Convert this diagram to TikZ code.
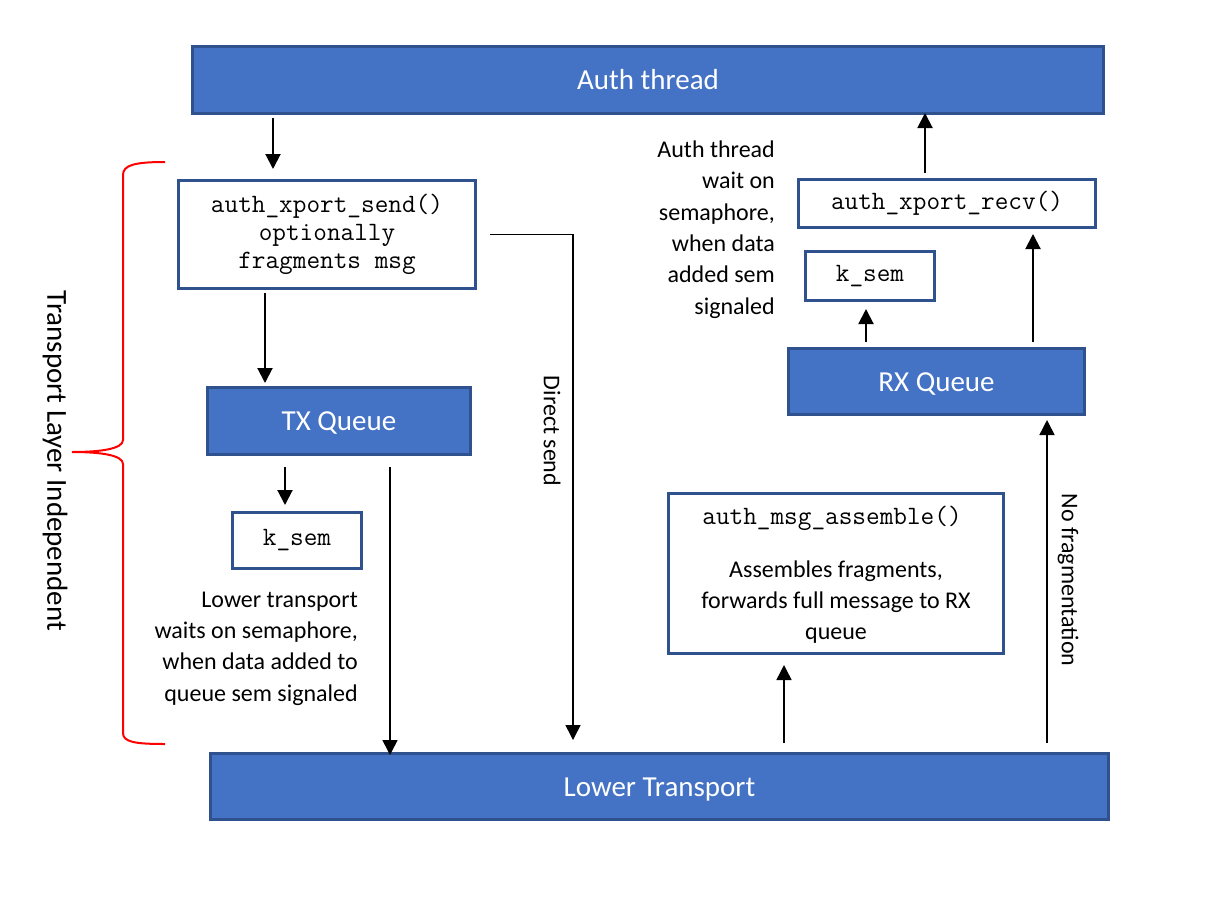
\documentclass[tikz,border=0pt]{standalone}
\usepackage{fontspec}
\setmainfont{Carlito}
\usetikzlibrary{arrows.meta}
\definecolor{boxblue}{HTML}{4472C4}
\definecolor{boxedge}{HTML}{2F528F}
\newcommand{\titlefont}{\fontsize{29}{35}\selectfont}
\newcommand{\notefont}{\fontsize{24}{31.4}\selectfont}
\newcommand{\codefont}{\ttfamily\fontsize{26.5}{28}\selectfont}
\tikzset{x=1pt, y=-1pt,
  bluebox/.style={draw=boxedge, fill=boxblue, line width=3pt, text=white, font=\titlefont, inner sep=0pt, text height=19pt, text depth=0pt},
  codebox/.style={draw=boxedge, fill=white, line width=3pt, font=\codefont, align=center, inner sep=0pt},
  note/.style={font=\notefont, inner sep=0pt},
  arr/.style={-{Triangle[length=15pt,width=15pt]}, line width=2pt},
  longarr/.style={arr, line width=1.5pt},
  bracket/.style={red, line width=2pt}}

\begin{document}
\begin{tikzpicture}
                \useasboundingbox (0,0) rectangle (1212,908);
                % boxes
                \node[bluebox, minimum width=911pt, minimum height=67pt] (auth) at (648,80) {Auth thread};
                \node[codebox, minimum width=297pt, minimum height=108pt] (send) at (327,234.5) {auth\_xport\_send()\\optionally\\fragments msg};
                \node[bluebox, minimum width=263pt, minimum height=67pt] (tx) at (339,421) {TX Queue};
                \node[codebox, minimum width=129pt, minimum height=56pt] (ksemL) at (297,540.5) {k\_sem};
                \node[bluebox, minimum width=898pt, minimum height=66pt] (lower) at (659.5,786.5) {Lower Transport};
                \node[bluebox, minimum width=296pt, minimum height=66pt] (rx) at (936.5,381.5) {RX Queue};
                \node[codebox, minimum width=297pt, minimum height=48pt] (recv) at (947,203.5) {auth\_xport\_recv()};
                \node[codebox, minimum width=129pt, minimum height=49pt] (ksemR) at (870,276) {k\_sem};
                \node[codebox, minimum width=335pt, minimum height=160pt] (asm) at (836,573.5) {};
                \node[font=\codefont, inner sep=0pt] (asmcode) at (832,518) {auth\_msg\_assemble()};
                \node[note, align=center] (asmtext) at (836,602) {Assembles fragments,\\forwards full message to RX\\queue};

                % notes
                \node[note, align=right, anchor=east] (authnote) at (775,229.5) {Auth thread\\wait on\\semaphore,\\when data\\added sem\\signaled};
                \node[note, align=right, anchor=east] (lownote) at (358,648.5) {Lower transport\\waits on semaphore,\\when data added to\\queue sem signaled};
                \node[note, rotate=-90] (direct) at (552,431) {Direct send};
                \node[note, rotate=-90] (nofrag) at (1068,580) {No fragmentation};
                \node[font=\titlefont, inner sep=0pt, rotate=-90] (layer) at (55,461) {Transport Layer Independent};

                % brace
                \draw[bracket] (165,162) .. controls (135,162) and (123,165) .. (123,175) -- (123,440)
                  .. controls (123,449) and (100,452) .. (72,452) .. controls (100,452) and (123,455) .. (123,464)
                  -- (123,733) .. controls (123,742) and (135,744) .. (165,744);

                % send path
                \draw[arr, shorten <=3pt, shorten >=10pt] (auth.south -| 273,0) -- (send.north -| 273,0);
                \draw[arr, shorten <=3pt, shorten >=3pt] (send.south -| 265,0) -- (tx.north -| 265,0);
                \draw[arr, shorten <=11pt, shorten >=6pt] (tx.south -| 285,0) -- (ksemL.north -| 285,0);
                \draw[longarr, shorten <=11pt, shorten >=-3pt] (tx.south -| 390,0) -- (lower.north -| 390,0);
                \draw[longarr, shorten <=13pt, shorten >=12pt] (send.east) -| (lower.north -| 573,0);

                % receive path
                \draw[longarr, shorten <=9pt, shorten >=10pt] (lower.north -| 784,0) -- (asm.south -| 784,0);
                \draw[longarr, shorten <=9pt, shorten >=4pt] (lower.north -| 1047,0) -- (rx.south -| 1047,0);
                \draw[arr, shorten <=5pt, shorten >=7pt] (rx.north -| 866,0) -- (ksemR.south -| 866,0);
                \draw[arr, shorten <=5pt, shorten >=5pt] (rx.north -| 1033,0) -- (recv.south -| 1033,0);
                \draw[arr, shorten <=5pt, shorten >=-2pt] (recv.north -| 925,0) -- (auth.south -| 925,0);
              \end{tikzpicture}
\end{document}
